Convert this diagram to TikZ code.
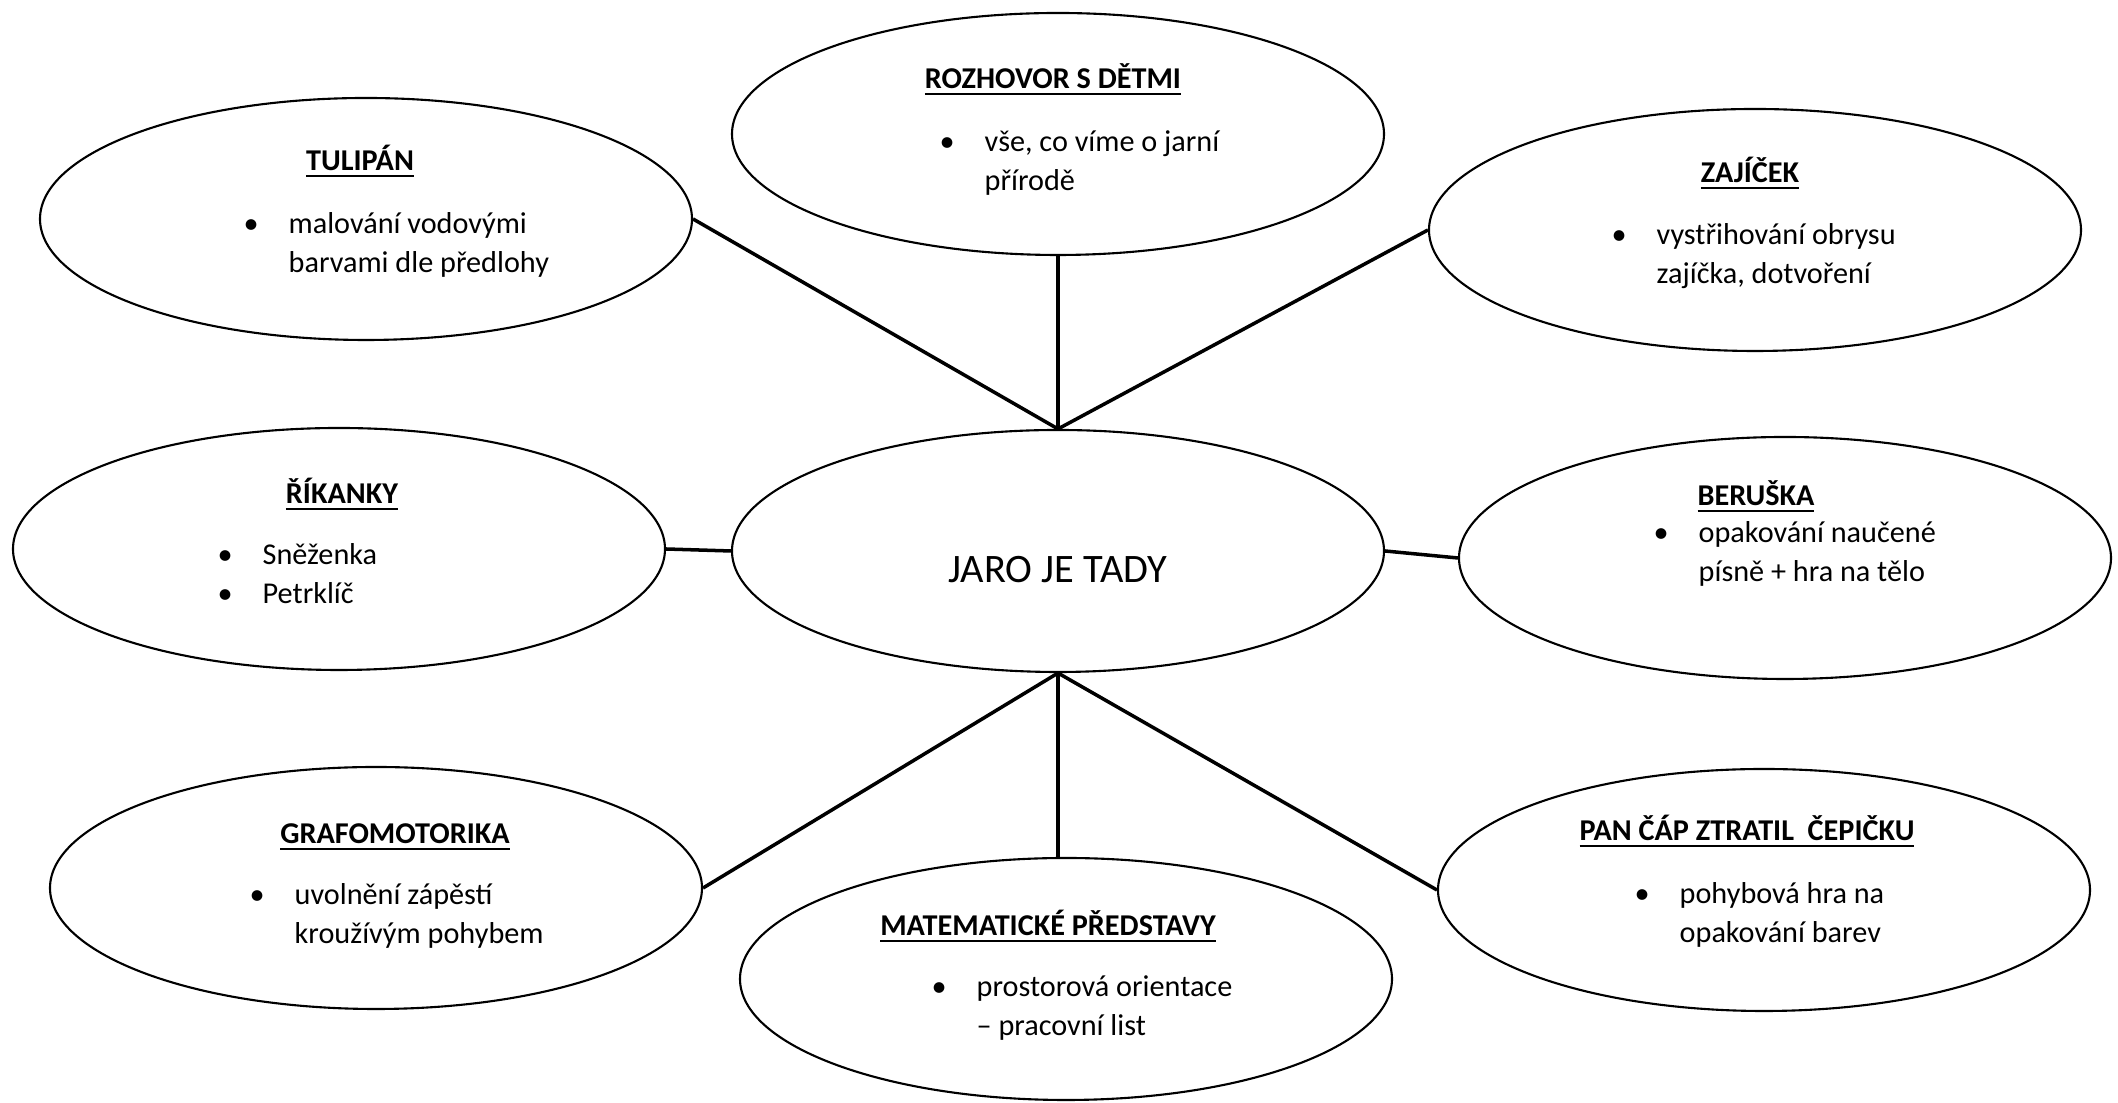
\documentclass[tikz,border=0pt]{standalone}
\usepackage{fontspec}
\setmainfont{Carlito}
\usetikzlibrary{shapes.geometric}
\tikzset{
  topic/.style={ellipse, draw, line width=0.6pt, minimum width=6.52cm, minimum height=2.42cm, inner sep=0pt},
  heading/.style={anchor=base, inner sep=0pt, font=\fontsize{8.6}{11}\selectfont\bfseries},
  items/.style={anchor=base west, inner sep=0pt, font=\fontsize{8.6}{11}\selectfont},
  spoke/.style={line width=1pt},
}
\begin{document}
\begin{tikzpicture}
\useasboundingbox (0,0) rectangle (21.18,11.03);
\node[topic] (jaro) at (10.58,5.52) {};
\node[inner sep=0pt, font=\fontsize{11.5}{13}\selectfont] (jaro-t) at ([yshift=-0.19cm]jaro.center) {JARO JE TADY};
\node[topic] (rozh) at (10.58,9.69) {};
\node[topic] (tulip) at (3.66,8.84) {};
\node[topic] (zajic) at (17.55,8.73) {};
\node[topic] (rikan) at (3.39,5.54) {};
\node[topic] (berus) at (17.85,5.45) {};
\node[topic] (grafo) at (3.76,2.15) {};
\node[topic] (matem) at (10.66,1.24) {};
\node[topic] (pan) at (17.64,2.13) {};
\node[heading] (rozh-h) at ([shift={(-0.05,0.45)}]rozh.center) {\underline{ROZHOVOR S DĚTMI}};
\node[items] (rozh-i) at ([shift={(-1.19,-0.175)}]rozh.center) {\begin{tabular}[t]{@{}p{0.45cm}@{}l@{}}\textbullet & vše, co víme o jarní\\ & přírodě\end{tabular}};
\node[heading] (tulip-h) at ([shift={(-0.06,0.48)}]tulip.center) {\underline{TULIPÁN}};
\node[items] (tulip-i) at ([shift={(-1.23,-0.145)}]tulip.center) {\begin{tabular}[t]{@{}p{0.45cm}@{}l@{}}\textbullet & malování vodovými\\ & barvami dle předlohy\end{tabular}};
\node[heading] (zajic-h) at ([shift={(-0.05,0.47)}]zajic.center) {\underline{ZAJÍČEK}};
\node[items] (zajic-i) at ([shift={(-1.44,-0.15)}]zajic.center) {\begin{tabular}[t]{@{}p{0.45cm}@{}l@{}}\textbullet & vystřihování obrysu\\ & zajíčka, dotvoření\end{tabular}};
\node[heading] (rikan-h) at ([shift={(0.03,0.45)}]rikan.center) {\underline{ŘÍKANKY}};
\node[items] (rikan-i) at ([shift={(-1.22,-0.155)}]rikan.center) {\begin{tabular}[t]{@{}p{0.45cm}@{}l@{}}\textbullet & Sněženka\\ \textbullet & Petrklíč\end{tabular}};
\node[heading] (berus-h) at ([shift={(-0.29,0.52)}]berus.center) {\underline{BERUŠKA}};
\node[items] (berus-i) at ([shift={(-1.32,0.155)}]berus.center) {\begin{tabular}[t]{@{}p{0.45cm}@{}l@{}}\textbullet & opakování naučené\\ & písně + hra na tělo\end{tabular}};
\node[heading] (grafo-h) at ([shift={(0.19,0.44)}]grafo.center) {\underline{GRAFOMOTORIKA}};
\node[items] (grafo-i) at ([shift={(-1.27,-0.165)}]grafo.center) {\begin{tabular}[t]{@{}p{0.45cm}@{}l@{}}\textbullet & uvolnění zápěstí\\ & kroužívým pohybem\end{tabular}};
\node[heading] (matem-h) at ([shift={(-0.18,0.43)}]matem.center) {\underline{MATEMATICKÉ PŘEDSTAVY}};
\node[items] (matem-i) at ([shift={(-1.35,-0.175)}]matem.center) {\begin{tabular}[t]{@{}p{0.45cm}@{}l@{}}\textbullet & prostorová orientace\\ & – pracovní list\end{tabular}};
\node[heading] (pan-h) at ([shift={(-0.17,0.49)}]pan.center) {\underline{PAN ČÁP ZTRATIL\ \ ČEPIČKU}};
\node[items] (pan-i) at ([shift={(-1.30,-0.135)}]pan.center) {\begin{tabular}[t]{@{}p{0.45cm}@{}l@{}}\textbullet & pohybová hra na\\ & opakování barev\end{tabular}};
\draw[spoke] (tulip.east) -- (jaro.north);
\draw[spoke] (rozh.south) -- (jaro.north);
\draw[spoke] (zajic.west) -- (jaro.north);
\draw[spoke] (rikan.east) -- (jaro.west);
\draw[spoke] (jaro.east) -- (berus.west);
\draw[spoke] (grafo.east) -- (jaro.south);
\draw[spoke] (jaro.south) -- (jaro.south |- matem.north);
\draw[spoke] (pan.west) -- (jaro.south);
\end{tikzpicture}
\end{document}
